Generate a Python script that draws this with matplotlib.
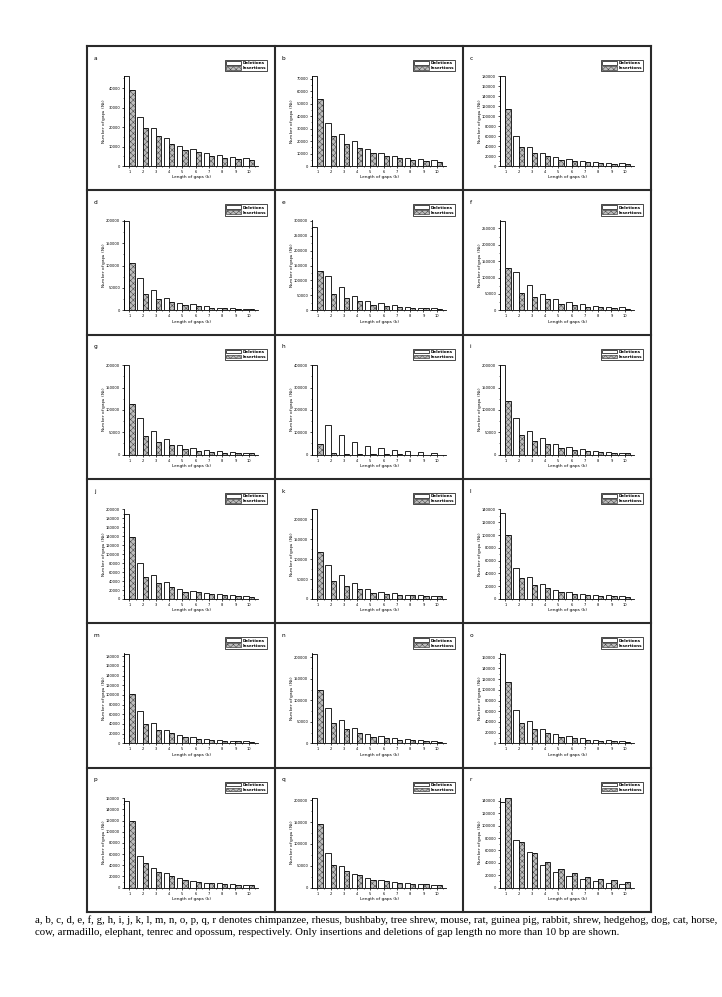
import matplotlib
matplotlib.use("Agg")
import matplotlib.pyplot as plt
from matplotlib.patches import Patch
from matplotlib.lines import Line2D
from matplotlib.ticker import MultipleLocator, FixedLocator
import numpy as np

# ---------------- data ----------------
gap_len = [1, 2, 3, 4, 5, 6, 7, 8, 9, 10]
panel_letters = ["a", "b", "c", "d", "e", "f", "g", "h", "i",
                 "j", "k", "l", "m", "n", "o", "p", "q", "r"]

del_a = [46000, 25000, 19700, 14600, 10500, 8800, 6800, 5400, 4700, 3900]
ins_a = [39000, 19700, 15600, 11500, 8300, 7000, 5100, 4200, 3700, 2900]
del_b = [71800, 34600, 26000, 20000, 13300, 10400, 8000, 6600, 5600, 4500]
ins_b = [53700, 24000, 17800, 14100, 10100, 8200, 6100, 5100, 4300, 3500]
del_c = [180000, 60000, 39000, 27000, 17700, 13600, 10200, 8200, 6800, 5400]
ins_c = [114000, 38000, 26000, 19500, 12900, 10200, 8200, 6100, 4800, 3400]
del_d = [200000, 73000, 46000, 28400, 17200, 13400, 9000, 6000, 6000, 3700]
ins_d = [106700, 36600, 26000, 19400, 12700, 9000, 6000, 6000, 3700, 2200]
del_e = [278000, 116500, 76600, 47200, 30400, 23100, 16800, 12600, 9400, 8400]
ins_e = [132000, 53500, 41000, 31500, 18900, 13600, 10500, 8400, 6300, 4200]
del_f = [273000, 117400, 77000, 49600, 33400, 24300, 18200, 14200, 11100, 9100]
ins_f = [129500, 53600, 41500, 33400, 19200, 15200, 11100, 9100, 7100, 5100]
del_g = [200000, 82000, 52500, 35000, 21300, 15200, 9900, 8400, 6800, 4600]
ins_g = [113000, 42600, 28100, 20500, 12900, 9100, 6100, 4600, 3800, 3000]
del_h = [400000, 133000, 90000, 57000, 37500, 30000, 21000, 16500, 12000, 9000]
ins_h = [48000, 6000, 4500, 3000, 1500, 1500, 750, 500, 300, 200]
del_i = [200000, 82500, 53500, 36400, 23000, 17100, 11900, 8900, 6700, 4500]
ins_i = [119700, 43900, 31200, 24500, 14900, 11200, 8900, 6700, 4500, 4500]
del_j = [190000, 80600, 54000, 37500, 22900, 18000, 13200, 10400, 8300, 6200]
ins_j = [137500, 50000, 35400, 27000, 16700, 14600, 10400, 8300, 7600, 4900]
del_k = [225000, 86200, 59400, 41000, 25100, 18400, 14200, 10900, 10000, 8400]
ins_k = [118000, 45200, 32600, 25100, 15100, 12600, 10000, 9200, 7500, 6700]
del_l = [134000, 49000, 34000, 24000, 14000, 10500, 8000, 6000, 5500, 4000]
ins_l = [100500, 33500, 22000, 17500, 10500, 8500, 6500, 4500, 5000, 3000]
del_m = [185000, 67000, 42000, 27600, 17200, 12400, 9000, 6900, 5500, 4800]
ins_m = [102000, 40000, 28300, 21400, 12400, 9700, 6900, 5500, 4800, 3400]
del_n = [208600, 82000, 54000, 35200, 22700, 17200, 11700, 9400, 7800, 5500]
ins_n = [125000, 46900, 33600, 25000, 14000, 11700, 8600, 7000, 5500, 3900]
del_o = [167500, 63000, 42000, 27500, 17500, 13100, 9400, 6900, 5600, 4400]
ins_o = [115600, 37500, 26000, 19400, 11900, 9400, 6900, 5000, 4400, 2500]
del_p = [155500, 56000, 36000, 25400, 16800, 12100, 9200, 7500, 5800, 5200]
ins_p = [119000, 44000, 27700, 20800, 13900, 10400, 7500, 6900, 5200, 4000]
del_q = [205000, 79000, 48500, 32000, 21600, 17900, 12700, 10400, 7800, 6700]
ins_q = [145000, 52000, 37300, 28400, 17900, 14900, 10400, 8200, 7500, 5200]
del_r = [138000, 76800, 57200, 36500, 24500, 18500, 13600, 10400, 8200, 5400]
ins_r = [144400, 73600, 56100, 41400, 29400, 23400, 17400, 14700, 12500, 9300]

deletions = [del_a, del_b, del_c, del_d, del_e, del_f, del_g, del_h, del_i,
             del_j, del_k, del_l, del_m, del_n, del_o, del_p, del_q, del_r]
insertions = [ins_a, ins_b, ins_c, ins_d, ins_e, ins_f, ins_g, ins_h, ins_i,
              ins_j, ins_k, ins_l, ins_m, ins_n, ins_o, ins_p, ins_q, ins_r]

ytick_max = [40000, 70000, 180000, 200000, 300000, 250000, 200000, 400000, 200000,
             200000, 200000, 140000, 180000, 200000, 160000, 160000, 200000, 140000]
ytick_step = [10000, 10000, 20000, 50000, 50000, 50000, 50000, 100000, 50000,
              20000, 50000, 20000, 20000, 50000, 20000, 20000, 50000, 20000]

legend_labels = ["Deletions", "Insertions"]
x_label = "Length of gaps (k)"
y_label = "Number of gaps (N$_k$)"
caption_lines = [
    "a, b, c, d, e, f, g, h, i, j, k, l, m, n, o, p, q, r denotes chimpanzee, rhesus, bushbaby, "
    "tree shrew, mouse, rat, guinea pig, rabbit, shrew, hedgehog, dog, cat, horse,",
    "cow, armadillo, elephant, tenrec and opossum, respectively. Only insertions and deletions "
    "of gap length no more than 10 bp are shown.",
]

# ---------------- layout ----------------
W, H = 722, 997
plt.rcParams["font.family"] = ["DejaVu Sans"]
plt.rcParams["hatch.linewidth"] = 0.35
fig = plt.figure(figsize=(W / 100, H / 100), dpi=100)


def fx(x):
    return x / W


def fy(y):
    return 1 - y / H


frame_l, frame_r, frame_t, frame_b = 87, 651, 46, 912
col_w = (frame_r - frame_l) / 3
row_h = (frame_b - frame_t) / 6

# frame and dividers
frame_col = "#2a2a2a"
for i in range(4):
    x = frame_l + i * col_w
    fig.add_artist(Line2D([fx(x), fx(x)], [fy(frame_t), fy(frame_b)], color=frame_col, lw=1.5))
for j in range(7):
    y = frame_t + j * row_h
    fig.add_artist(Line2D([fx(frame_l), fx(frame_r)], [fy(y), fy(y)], color=frame_col, lw=1.5))

bw = 0.4
xk = np.array(gap_len, dtype=float)
ins_face = "#bdbdbd"
hatch_col = "#444444"

for idx, letter in enumerate(panel_letters):
    r, c = divmod(idx, 3)
    px0 = frame_l + c * col_w
    py0 = frame_t + r * row_h
    ax = fig.add_axes([fx(px0 + 37), fy(py0 + 120), 134 / W, 90 / H])
    d = np.array(deletions[idx], dtype=float)
    ins = np.array(insertions[idx], dtype=float)

    ax.bar(xk - bw, d, width=bw, align="edge", facecolor="white",
           edgecolor="black", linewidth=0.6, zorder=2)
    ax.bar(xk, ins, width=bw, align="edge", facecolor=ins_face,
           edgecolor=hatch_col, linewidth=0, hatch="xxxxxx", zorder=2)
    ax.bar(xk, ins, width=bw, align="edge", fill=False,
           edgecolor="black", linewidth=0.6, zorder=3)

    top = max(d.max(), ins.max(), ytick_max[idx])
    ax.set_ylim(0, top * 1.005)
    ax.set_xlim(0.6, 10.7)
    ax.yaxis.set_major_locator(FixedLocator(np.arange(0, ytick_max[idx] + 1, ytick_step[idx])))
    ax.yaxis.set_minor_locator(MultipleLocator(ytick_step[idx] / 2))
    ax.set_yticklabels([f"{int(v)}" for v in np.arange(0, ytick_max[idx] + 1, ytick_step[idx])])
    ax.set_xticks(gap_len)
    ax.set_xticklabels([str(k) for k in gap_len])
    ax.xaxis.set_minor_locator(FixedLocator(np.arange(1.5, 10.6, 1.0)))

    for s in ["top", "right"]:
        ax.spines[s].set_visible(False)
    for s in ["left", "bottom"]:
        ax.spines[s].set_linewidth(0.6)
    ax.tick_params(axis="both", which="major", labelsize=2.6, length=1.6, width=0.5, pad=1.2)
    ax.tick_params(axis="both", which="minor", length=0.9, width=0.4)

    ax.text(0.5, -0.125, x_label, transform=ax.transAxes, ha="center", va="center", fontsize=3.1)
    ax.text(-0.15, 0.5, y_label, transform=ax.transAxes, ha="center", va="center",
            rotation=90, fontsize=3.1)

    handles = [Patch(facecolor="white", edgecolor="black", linewidth=0.5),
               Patch(facecolor=ins_face, edgecolor=hatch_col, hatch="xxxxxx", linewidth=0.5)]
    leg = ax.legend(handles, legend_labels, loc="upper right",
                    bbox_to_anchor=((180 - 37) / 134, (120 - 14) / 90),
                    borderaxespad=0, prop={"weight": "bold", "size": 3.0},
                    frameon=True, fancybox=False, edgecolor="black", framealpha=1,
                    handlelength=3.6, handleheight=1.0, handletextpad=0.4,
                    borderpad=0.25, labelspacing=0.15)
    leg.get_frame().set_linewidth(0.5)

    fig.text(fx(px0 + 7), fy(py0 + 12), letter, fontsize=4.2, ha="left", va="center")

# caption
cap_x = 35
target_w = 674
fs = 7.6
t0 = fig.text(fx(cap_x), fy(920), caption_lines[0], fontsize=fs, family="Liberation Serif",
              ha="left", va="center")
fig.canvas.draw()
wpx = t0.get_window_extent().width
fs = fs * target_w / wpx
t0.set_fontsize(fs)
fig.text(fx(cap_x), fy(932), caption_lines[1], fontsize=fs, family="Liberation Serif",
         ha="left", va="center")

fig.savefig("out.png", dpi=100)
